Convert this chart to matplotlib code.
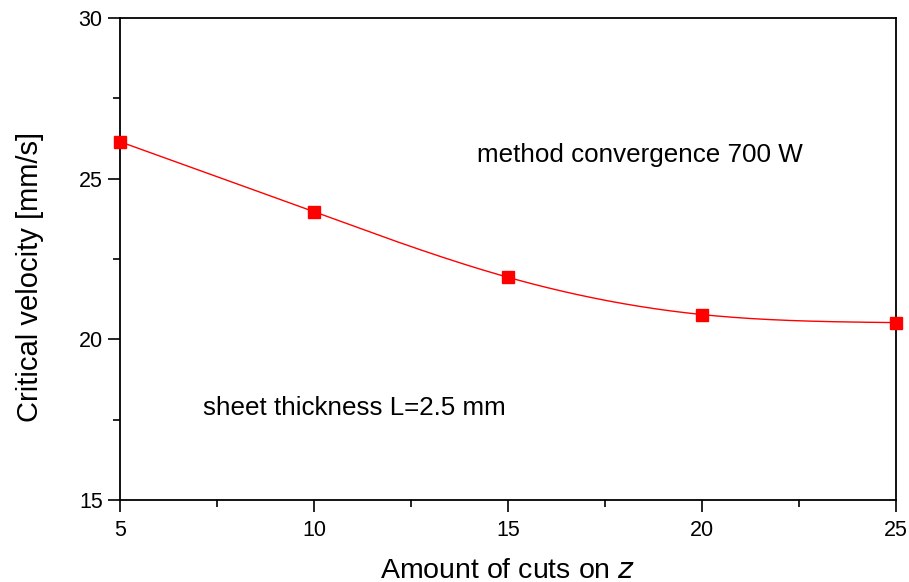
import numpy as np
import matplotlib.pyplot as plt
from matplotlib.ticker import MultipleLocator

plt.rcParams['font.family'] = ['Liberation Sans', 'DejaVu Sans']

# data
cuts = [5, 10, 15, 20, 25]
velocity = [26.15, 23.97, 21.93, 20.77, 20.52]


def natural_spline(x, y, xs):
    # natural cubic spline through the points, for the smooth line
    x = np.asarray(x, float)
    y = np.asarray(y, float)
    n = len(x)
    h = np.diff(x)
    A = np.zeros((n, n))
    r = np.zeros(n)
    A[0, 0] = A[-1, -1] = 1
    for i in range(1, n - 1):
        A[i, i - 1] = h[i - 1]
        A[i, i] = 2 * (h[i - 1] + h[i])
        A[i, i + 1] = h[i]
        r[i] = 6 * ((y[i + 1] - y[i]) / h[i] - (y[i] - y[i - 1]) / h[i - 1])
    m = np.linalg.solve(A, r)
    idx = np.clip(np.searchsorted(x, xs) - 1, 0, n - 2)
    x0, x1, hi = x[idx], x[idx + 1], h[idx]
    return (m[idx] * (x1 - xs) ** 3 / (6 * hi) + m[idx + 1] * (xs - x0) ** 3 / (6 * hi)
            + (y[idx] / hi - m[idx] * hi / 6) * (x1 - xs)
            + (y[idx + 1] / hi - m[idx + 1] * hi / 6) * (xs - x0))


fig = plt.figure(figsize=(9.09, 5.82), dpi=100)
ax = fig.add_axes([0.132, 0.141, 0.8537, 0.828])

xs = np.linspace(cuts[0], cuts[-1], 300)
ax.plot(xs, natural_spline(cuts, velocity, xs), color='red', linewidth=1.0, zorder=2)
ax.plot(cuts, velocity, linestyle='none', marker='s', markersize=9,
        color='red', clip_on=False, zorder=3)

ax.set_xlim(5, 25)
ax.set_ylim(15, 30)
ax.xaxis.set_major_locator(MultipleLocator(5))
ax.xaxis.set_minor_locator(MultipleLocator(2.5))
ax.yaxis.set_major_locator(MultipleLocator(5))
ax.yaxis.set_minor_locator(MultipleLocator(2.5))
ax.tick_params(which='major', direction='out', length=8.5, width=1.2, labelsize=15.5)
ax.tick_params(which='minor', direction='out', length=5, width=1.2)
ax.tick_params(axis='x', which='major', pad=6)
ax.tick_params(axis='y', which='major', pad=4)
ax.tick_params(top=False, right=False, which='both')
for s in ax.spines.values():
    s.set_linewidth(1.3)

ax.set_xlabel('Amount of cuts on $\\it{z}$', fontsize=20.5, labelpad=12)
ax.set_ylabel('Critical velocity [mm/s]', fontsize=21, va='center')
ax.yaxis.set_label_coords(-0.116, 0.463)

ax.text(14.2, 25.74, 'method convergence 700 W', fontsize=18.7, va='center')
ax.text(7.14, 17.86, 'sheet thickness L=2.5 mm', fontsize=18.7, va='center')

plt.savefig('out.png')
